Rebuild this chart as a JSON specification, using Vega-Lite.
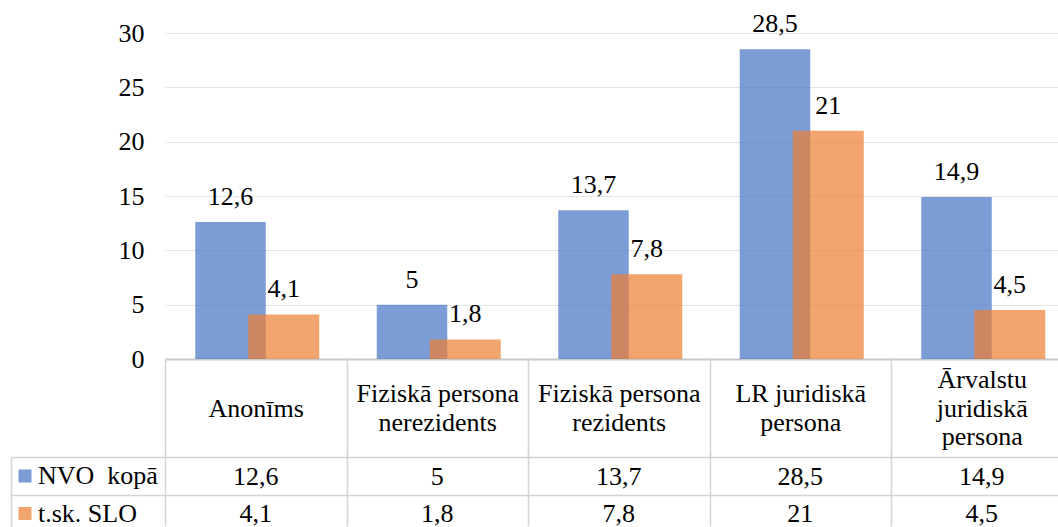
{
  "$schema": "https://vega.github.io/schema/vega-lite/v6.json",
  "background": "white",
  "padding": {"left": 10, "top": 11, "right": 0, "bottom": 0},
  "bounds": "flush",
  "spacing": 98,
  "config": {
    "font": "Liberation Serif",
    "view": {"stroke": null},
    "locale": {"number": {"decimal": ",", "thousands": " ", "grouping": [3], "currency": ["", " €"]}},
    "axis": {"labelFont": "Liberation Serif", "labelFontSize": 26, "labelColor": "#000000", "title": null},
    "legend": {"labelFont": "Liberation Serif"},
    "text": {"font": "Liberation Serif"}
  },
  "data": {"values": [
    {"category": "Anonīms", "series": "NVO\u00a0 kopā", "value": 12.6},
    {"category": "Anonīms", "series": "t.sk. SLO", "value": 4.1},
    {"category": "Fiziskā persona\nnerezidents", "series": "NVO\u00a0 kopā", "value": 5},
    {"category": "Fiziskā persona\nnerezidents", "series": "t.sk. SLO", "value": 1.8},
    {"category": "Fiziskā persona\nrezidents", "series": "NVO\u00a0 kopā", "value": 13.7},
    {"category": "Fiziskā persona\nrezidents", "series": "t.sk. SLO", "value": 7.8},
    {"category": "LR juridiskā\npersona", "series": "NVO\u00a0 kopā", "value": 28.5},
    {"category": "LR juridiskā\npersona", "series": "t.sk. SLO", "value": 21},
    {"category": "Ārvalstu\njuridiskā\npersona", "series": "NVO\u00a0 kopā", "value": 14.9},
    {"category": "Ārvalstu\njuridiskā\npersona", "series": "t.sk. SLO", "value": 4.5}
  ]},
  "resolve": {"scale": {"color": "shared"}},
  "vconcat": [
    {
      "width": 893,
      "height": 326,
      "encoding": {
        "x": {
          "field": "category", "type": "nominal", "sort": null,
          "scale": {"range": [0, 907.5], "paddingInner": 0, "paddingOuter": 0},
          "axis": {"orient": "bottom", "domain": false, "ticks": true, "tickBand": "extent", "tickSize": 98, "tickColor": "#D4D4D4", "tickWidth": 1.5,
            "labelPadding": {"condition": [
              {"test": "datum.value != null && length(split(datum.value, '\\n')) === 3", "value": -77.5},
              {"test": "datum.value != null && length(split(datum.value, '\\n')) === 2", "value": -63.25}
            ], "value": -49},
            "labelBaseline": "middle", "labelAngle": 0, "labelLimit": 0, "labelLineHeight": 28.5,
            "labelExpr": "datum.value == null ? '' : split(datum.value, '\\n')",
            "grid": false, "title": null}
        },
        "y": {
          "field": "value", "type": "quantitative",
          "scale": {"domain": [0, 30], "nice": false},
          "axis": {"values": [0, 5, 10, 15, 20, 25, 30], "domain": false, "ticks": false, "labelPadding": 21, "grid": true,
            "gridColor": {"condition": {"test": "datum.value === 0", "value": "#C8C8C8"}, "value": "#E4E4E4"},
            "gridWidth": {"condition": {"test": "datum.value === 0", "value": 2}, "value": 1},
            "title": null}
        }
      },
      "layer": [
        {
          "transform": [{"filter": {"field": "series", "equal": "NVO\u00a0 kopā"}}],
          "mark": {"type": "bar", "width": 70.5, "xOffset": -25.25, "opacity": 0.7},
          "encoding": {
            "color": {"field": "series", "type": "nominal",
              "scale": {"domain": ["NVO\u00a0 kopā", "t.sk. SLO"], "range": ["#4472C4", "#ED7D31"]},
              "legend": {"orient": "none", "legendX": -153, "legendY": 430, "title": null, "symbolType": "square", "symbolSize": 169, "symbolOpacity": 0.7, "symbolStrokeWidth": 0, "labelFontSize": 26, "labelColor": "#000000", "labelOffset": 0, "rowPadding": 11.5, "padding": 0, "labelLimit": 0}}
          }
        },
        {
          "transform": [{"filter": {"field": "series", "equal": "t.sk. SLO"}}],
          "mark": {"type": "bar", "width": 71, "xOffset": 28, "opacity": 0.7},
          "encoding": {
            "color": {"field": "series", "type": "nominal"}
          }
        },
        {
          "transform": [{"filter": {"field": "series", "equal": "NVO\u00a0 kopā"}}],
          "mark": {"type": "text", "xOffset": -25.25, "dy": -17, "baseline": "alphabetic", "fontSize": 26, "color": "#000000"},
          "encoding": {"text": {"field": "value", "type": "quantitative", "format": ".1~f"}}
        },
        {
          "transform": [{"filter": {"field": "series", "equal": "t.sk. SLO"}}],
          "mark": {"type": "text", "xOffset": 28, "dy": -17, "baseline": "alphabetic", "fontSize": 26, "color": "#000000"},
          "encoding": {"text": {"field": "value", "type": "quantitative", "format": ".1~f"}}
        }
      ]
    },
    {
      "width": 893,
      "height": 69,
      "resolve": {"axis": {"y": "independent"}},
      "encoding": {
        "x": {
          "field": "category", "type": "nominal", "sort": null,
          "scale": {"range": [0, 907.5], "paddingInner": 0, "paddingOuter": 0},
          "axis": {"orient": "bottom", "labels": false, "ticks": false, "domain": false, "grid": true, "tickBand": "extent", "gridColor": "#D4D4D4", "gridWidth": 1.5, "title": null}
        }
      },
      "layer": [
        {
          "mark": {"type": "text", "fontSize": 26, "baseline": "middle", "color": "#000000", "dy": 1},
          "encoding": {
            "y": {
              "field": "series", "type": "nominal", "sort": null,
              "scale": {"range": [0, 75], "paddingInner": 0, "paddingOuter": 0},
              "axis": {"orient": "left", "labels": false, "domain": false, "ticks": true, "tickSize": 154, "tickBand": "extent", "tickColor": "#D4D4D4", "tickWidth": 1.5, "grid": true, "gridColor": "#D4D4D4", "gridWidth": 1.5, "title": null}
            },
            "text": {"field": "value", "type": "quantitative", "format": ".1~f"}
          }
        },
        {
          "mark": {"type": "text", "fontSize": 26, "opacity": 0},
          "encoding": {
            "y": {
              "field": "series", "type": "nominal", "sort": null,
              "axis": {"orient": "left", "offset": 154, "labels": false, "domain": true, "domainColor": "#D4D4D4", "domainWidth": 1.5, "ticks": false, "grid": false, "title": null}
            },
            "text": {"field": "value", "type": "quantitative", "format": ".1~f"}
          }
        }
      ]
    }
  ]
}
